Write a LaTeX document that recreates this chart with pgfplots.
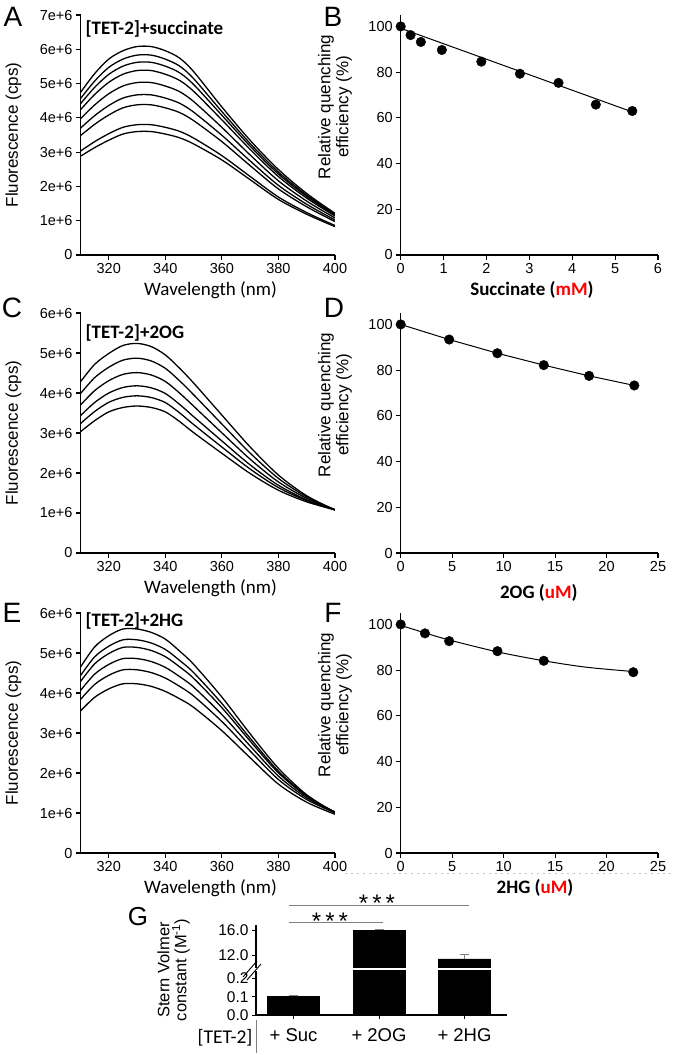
\documentclass[border=0pt]{standalone}
\usepackage{fontspec}
\setmainfont{Liberation Sans}
\newfontfamily\calfam{Carlito}
\usepackage{pgfplots}
\pgfplotsset{compat=1.18}
\newcommand\tickfont{\fontsize{14.5bp}{16bp}\selectfont}
\newcommand\labfont{\fontsize{17bp}{18bp}\selectfont}
\newcommand\calfont{\calfam\fontsize{19bp}{21bp}\selectfont}
\newcommand\calbfont{\calfam\bfseries\fontsize{19bp}{21bp}\selectfont}
\newcommand\letfont{\fontsize{28bp}{30bp}\selectfont}
\pgfplotsset{
  base/.style={scale only axis, anchor=south west,
    axis x line*=bottom, axis y line*=left,
    axis line style={line width=1.3bp, black},
    every tick/.style={line width=1.1bp, black},
    tick align=outside, major tick length=4.5bp,
    tick label style={font=\tickfont},
    /pgf/number format/assume math mode=true,
    label style={font=\labfont},
    height=240bp,
  },
  spec/.style={base, width=254.5bp, xmin=310, xmax=400, ymin=0,
    xtick={320,340,...,400},
    xlabel={Wavelength (nm)},
    xlabel style={font=\calfont, at={(axis description cs:0.511,-0.146)}, anchor=center},
    ylabel={Fluorescence (cps)},
    ylabel style={at={(axis description cs:-0.263,0.5)}, anchor=center},
  },
  quench/.style={base, width=257.3bp, xmin=0, ymin=0, ymax=105,
    ytick={0,20,...,100},
    ylabel={Relative quenching\\efficiency (\%)},
    ylabel style={align=center, at={(axis description cs:-0.255,0.617)}, anchor=center},
    xlabel style={font=\calbfont, anchor=center},
  },
  curve/.style={black, line width=1.3bp, smooth, no markers},
}
\begin{document}
\begin{tikzpicture}
\useasboundingbox (0,0) rectangle (677bp,-1055bp);

% ---------------- A
\begin{axis}[spec, at={(80.5bp,-255bp)}, ymax=7, ytick={0,...,7},
  yticklabels={0,1e+6,2e+6,3e+6,4e+6,5e+6,6e+6,7e+6}]
\addplot[curve] coordinates {(310,4.742)(315,5.290)(320,5.715)(325,5.958)(330,6.080)(335,6.080)(340,5.958)(345,5.746)(350,5.350)(360,4.317)(370,3.344)(380,2.493)(390,1.794)(400,1.216)};
\addplot[curve] coordinates {(310,4.562)(315,5.072)(320,5.473)(325,5.713)(330,5.830)(335,5.830)(340,5.713)(345,5.513)(350,5.145)(360,4.183)(370,3.250)(380,2.419)(390,1.745)(400,1.188)};
\addplot[curve] coordinates {(310,4.412)(315,4.889)(320,5.269)(325,5.508)(330,5.620)(335,5.620)(340,5.508)(345,5.318)(350,4.974)(360,4.075)(370,3.175)(380,2.360)(390,1.707)(400,1.166)};
\addplot[curve] coordinates {(310,4.237)(315,4.681)(320,5.037)(325,5.272)(330,5.380)(335,5.380)(340,5.272)(345,5.094)(350,4.775)(360,3.941)(370,3.080)(380,2.287)(390,1.658)(400,1.137)};
\addplot[curve] coordinates {(310,3.974)(315,4.376)(320,4.703)(325,4.929)(330,5.030)(335,5.030)(340,4.929)(345,4.766)(350,4.477)(360,3.722)(370,2.917)(380,2.163)(390,1.572)(400,1.081)};
\addplot[curve] coordinates {(310,3.701)(315,4.063)(320,4.361)(325,4.577)(330,4.670)(335,4.670)(340,4.577)(345,4.428)(350,4.168)(360,3.491)(370,2.744)(380,2.031)(390,1.480)(400,1.022)};
\addplot[curve] coordinates {(310,3.482)(315,3.811)(320,4.084)(325,4.292)(330,4.380)(335,4.380)(340,4.292)(345,4.156)(350,3.920)(360,3.307)(370,2.606)(380,1.927)(390,1.407)(400,0.975)};
\addplot[curve] coordinates {(310,3.031)(315,3.306)(320,3.539)(325,3.724)(330,3.800)(335,3.800)(340,3.724)(345,3.608)(350,3.411)(360,2.898)(370,2.290)(380,1.691)(390,1.237)(400,0.860)};
\addplot[curve] coordinates {(310,2.880)(315,3.132)(320,3.348)(325,3.528)(330,3.600)(335,3.600)(340,3.528)(345,3.420)(350,3.240)(360,2.772)(370,2.196)(380,1.620)(390,1.188)(400,0.828)};
\end{axis}

% ---------------- B
\begin{axis}[quench, at={(400.7bp,-255bp)}, xmax=6, xtick={0,...,6},
  xlabel={Succinate (\textcolor{red}{mM})},
  xlabel style={at={(axis description cs:0.51,-0.146)}}]
\addplot[black, line width=1bp] coordinates {(0,99.2)(5.4,62.6)};
\addplot[only marks, mark=*, mark size=4.8bp, black] coordinates {(0,100)(0.23,96.2)(0.47,93.2)(0.96,89.7)(1.88,84.6)(2.78,79.3)(3.68,75.3)(4.55,65.8)(5.40,63.0)};
\end{axis}

% ---------------- C
\begin{axis}[spec, at={(80.5bp,-553bp)}, ymax=6, ytick={0,...,6},
  yticklabels={0,1e+6,2e+6,3e+6,4e+6,5e+6,6e+6}]
\addplot[curve] coordinates {(310,4.281)(315,4.716)(320,4.988)(325,5.188)(330,5.240)(335,5.161)(340,4.952)(345,4.622)(350,4.250)(360,3.448)(370,2.651)(380,1.949)(390,1.431)(400,1.074)};
\addplot[curve] coordinates {(310,3.987)(315,4.383)(320,4.644)(325,4.821)(330,4.870)(335,4.802)(340,4.617)(345,4.308)(350,3.957)(360,3.224)(370,2.498)(380,1.865)(390,1.403)(400,1.084)};
\addplot[curve] coordinates {(310,3.699)(315,4.059)(320,4.308)(325,4.465)(330,4.510)(335,4.451)(340,4.289)(345,4.001)(350,3.672)(360,3.004)(370,2.345)(380,1.777)(390,1.367)(400,1.083)};
\addplot[curve] coordinates {(310,3.435)(315,3.762)(320,3.999)(325,4.138)(330,4.180)(335,4.130)(340,3.988)(345,3.719)(350,3.410)(360,2.801)(370,2.203)(380,1.693)(390,1.329)(400,1.078)};
\addplot[curve] coordinates {(310,3.236)(315,3.537)(320,3.767)(325,3.891)(330,3.930)(335,3.887)(340,3.761)(345,3.507)(350,3.212)(360,2.649)(370,2.099)(380,1.635)(390,1.309)(400,1.082)};
\addplot[curve] coordinates {(310,3.032)(315,3.308)(320,3.528)(325,3.638)(330,3.675)(335,3.638)(340,3.528)(345,3.289)(350,3.010)(360,2.492)(370,1.988)(380,1.569)(390,1.279)(400,1.077)};
\end{axis}

% ---------------- D
\begin{axis}[quench, at={(400.7bp,-553bp)}, xmax=25, xtick={0,5,...,25},
  xlabel={2OG (\textcolor{red}{uM})},
  xlabel style={at={(axis description cs:0.537,-0.167)}}]
\addplot[black, line width=1bp] coordinates {(0,100)(4.71,93.4)(9.39,87.4)(13.9,82.2)(18.3,77.5)(22.7,73.3)};
\addplot[only marks, mark=*, mark size=4.8bp, black] coordinates {(0,100)(4.71,93.4)(9.39,87.4)(13.9,82.2)(18.3,77.5)(22.7,73.3)};
\end{axis}

% ---------------- E
\begin{axis}[spec, at={(80.5bp,-853bp)}, ymax=6, ytick={0,...,6},
  yticklabels={0,1e+6,2e+6,3e+6,4e+6,5e+6,6e+6}]
\addplot[curve] coordinates {(310,4.648)(315,5.152)(320,5.432)(325,5.600)(330,5.600)(335,5.516)(340,5.348)(345,5.051)(350,4.718)(360,3.898)(370,2.979)(380,2.117)(390,1.456)(400,1.008)};
\addplot[curve] coordinates {(310,4.435)(315,4.904)(320,5.170)(325,5.330)(330,5.330)(335,5.250)(340,5.090)(345,4.818)(350,4.510)(360,3.738)(370,2.869)(380,2.046)(390,1.428)(400,1.012)};
\addplot[curve] coordinates {(310,4.287)(315,4.729)(320,4.986)(325,5.140)(330,5.140)(335,5.063)(340,4.909)(345,4.657)(350,4.368)(360,3.633)(370,2.798)(380,2.003)(390,1.419)(400,1.026)};
\addplot[curve] coordinates {(310,4.063)(315,4.471)(320,4.714)(325,4.860)(330,4.860)(335,4.787)(340,4.641)(345,4.413)(350,4.149)(360,3.461)(370,2.676)(380,1.922)(390,1.380)(400,1.018)};
\addplot[curve] coordinates {(310,3.838)(315,4.214)(320,4.443)(325,4.580)(330,4.580)(335,4.511)(340,4.374)(345,4.168)(350,3.926)(360,3.287)(370,2.550)(380,1.837)(390,1.337)(400,1.004)};
\addplot[curve] coordinates {(310,3.553)(315,3.892)(320,4.103)(325,4.230)(330,4.230)(335,4.167)(340,4.040)(345,3.858)(350,3.642)(360,3.058)(370,2.381)(380,1.722)(390,1.269)(400,0.969)};
\end{axis}

% ---------------- F
\draw[gray!45, dash pattern=on 2bp off 4bp, line width=0.6bp] (345bp,-873bp) -- (675bp,-873bp);
\begin{axis}[quench, at={(400.7bp,-853bp)}, xmax=25, xtick={0,5,...,25},
  xlabel={2HG (\textcolor{red}{uM})},
  xlabel style={at={(axis description cs:0.522,-0.146)}}]
\addplot[black, line width=1bp, smooth] coordinates {(0,99.6)(2.36,96.3)(4.71,93.2)(9.4,88.0)(13.9,84.1)(18,81.3)(22.6,79.4)};
\addplot[only marks, mark=*, mark size=4.8bp, black] coordinates {(0,100)(2.36,96.1)(4.71,92.7)(9.4,88.3)(13.9,84.1)(22.6,79.1)};
\end{axis}

% ---------------- G upper
\begin{axis}[scale only axis, anchor=south west, at={(256bp,-967.5bp)},
  width=251bp, height=42.5bp, xmin=-0.439, xmax=2.497, ymin=10, ymax=16.8,
  axis x line=none, axis y line*=left,
  axis line style={line width=1.1bp, black},
  every tick/.style={line width=1bp, black},
  tick align=outside, major tick length=4bp,
  ytick={12,16}, yticklabels={12.0,16.0},
  tick label style={font=\fontsize{15.5bp}{17bp}\selectfont},
  ybar, bar width=52bp, bar shift=0pt]
\addplot[fill=black, draw=black,
  error bars/.cd, y dir=plus, y explicit,
  error bar style={line width=1bp, gray},
  error mark options={rotate=90, mark size=4.5bp, line width=1bp, gray}]
  coordinates {(1,16.0) +- (0,0.1) (2,11.4) +- (0,0.7)};
\end{axis}

% ---------------- G lower
\begin{axis}[scale only axis, anchor=south west, at={(256bp,-1015bp)},
  width=251bp, height=44.3bp, xmin=-0.439, xmax=2.497, ymin=0, ymax=0.242,
  axis x line*=bottom, axis y line*=left,
  axis line style={line width=1.1bp, black},
  every tick/.style={line width=1bp, black},
  tick align=outside, major tick length=4bp,
  ytick={0,0.1,0.2}, yticklabels={0.0,0.1,0.2},
  xtick={0,1,2}, xticklabels={+ Suc,+ 2OG,+ 2HG},
  yticklabel style={font=\fontsize{15.5bp}{17bp}\selectfont},
  xticklabel style={font=\fontsize{18.5bp}{20bp}\selectfont, yshift=-6bp},
  ybar, bar width=52bp, bar shift=0pt]
\addplot[fill=black, draw=black,
  error bars/.cd, y dir=plus, y explicit,
  error bar style={line width=1bp, gray},
  error mark options={rotate=90, mark size=4.5bp, line width=1bp, gray}]
  coordinates {(0,0.105) +- (0,0.004)};
\addplot[fill=black, draw=black] coordinates {(1,1) (2,1)};
\end{axis}

% G decorations
\draw[line width=0.9bp] (243bp,-977bp) -- (257bp,-961bp);
\draw[line width=0.9bp] (247bp,-980bp) -- (261bp,-964bp);
\draw[gray, line width=1bp] (289bp,-922.7bp) -- (383bp,-922.7bp);
\draw[gray, line width=1bp] (289bp,-905bp) -- (468.5bp,-905bp);
\node[anchor=base, font=\fontsize{24bp}{26bp}\selectfont] at (330bp,-929bp) {*\,*\,*};
\node[anchor=base, font=\fontsize{24bp}{26bp}\selectfont] at (377bp,-911bp) {*\,*\,*};
\node[rotate=90, align=center, font=\fontsize{16.5bp}{17bp}\selectfont] at (173.5bp,-970bp) {Stern Volmer\\constant (M\textsuperscript{-1})};
\node[font=\calfam\fontsize{19.5bp}{21bp}\selectfont] at (225bp,-1038bp) {[TET-2]};
\draw[gray, line width=0.8bp] (256.7bp,-1020bp) -- (256.7bp,-1053bp);

% titles
\node[anchor=west, font=\calbfont] at (82bp,-29bp) {[TET-2]+succinate};
\node[anchor=west, font=\calbfont] at (82bp,-333bp) {[TET-2]+2OG};
\node[anchor=west, font=\calbfont] at (82bp,-621bp) {[TET-2]+2HG};

% panel letters
\node[font=\letfont] at (13bp,-17bp) {A};
\node[font=\letfont] at (333bp,-17bp) {B};
\node[font=\letfont] at (12bp,-308bp) {C};
\node[font=\letfont] at (334bp,-308bp) {D};
\node[font=\letfont] at (12bp,-613bp) {E};
\node[font=\letfont] at (333bp,-613bp) {F};
\node[font=\fontsize{26bp}{28bp}\selectfont] at (138bp,-917bp) {G};
\end{tikzpicture}
\end{document}
